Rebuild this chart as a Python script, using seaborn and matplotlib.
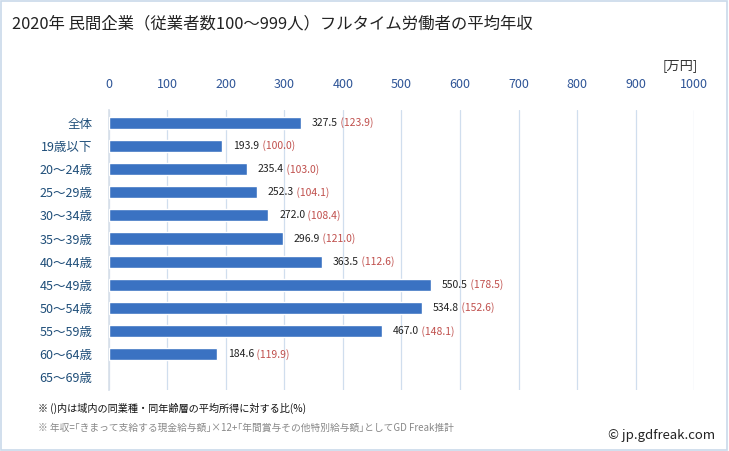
import numpy as np
import pandas as pd
import matplotlib
matplotlib.use("Agg")
import matplotlib.pyplot as plt
import seaborn as sns

# data
categories = ["全体", "19歳以下", "20〜24歳", "25〜29歳", "30〜34歳", "35〜39歳",
              "40〜44歳", "45〜49歳", "50〜54歳", "55〜59歳", "60〜64歳", "65〜69歳"]
income = [327.5, 193.9, 235.4, 252.3, 272.0, 296.9, 363.5, 550.5, 534.8, 467.0, 184.6, np.nan]
ratio = [123.9, 100.0, 103.0, 104.1, 108.4, 121.0, 112.6, 178.5, 152.6, 148.1, 119.9, np.nan]
x_ticks = [0, 100, 200, 300, 400, 500, 600, 700, 800, 900, 1000]

sns.set_theme(style="white")
plt.rcParams["font.family"] = ["Noto Sans CJK JP", "DejaVu Sans"]

df = pd.DataFrame({"cat": categories, "income": income})

fig = plt.figure(figsize=(7.29, 4.51), dpi=100)
ax = fig.add_axes([0.1495, 0.135, 0.8025, 0.621])

sns.barplot(data=df, x="income", y="cat", order=categories, orient="h",
            color="#3a72c2", saturation=1, width=0.52, ax=ax, zorder=3)

ax.set_xlim(0, 1000)
ax.set_ylim(11.55, -0.55)
ax.set_xticks(x_ticks)
ax.xaxis.tick_top()
ax.tick_params(axis="x", length=0, pad=14, labelsize=9, labelcolor="#2f5597")
ax.tick_params(axis="y", length=0, pad=12, labelsize=9, labelcolor="#1f4e79")
ax.set_xlabel("")
ax.set_ylabel("")
ax.grid(axis="x", color="#d0deee", linewidth=0.9, zorder=0)
for s in ["top", "right", "bottom"]:
    ax.spines[s].set_visible(False)
ax.spines["left"].set_color("#d8e0ea")

# value labels: black value then red ratio
for i, (v, r) in enumerate(zip(income, ratio)):
    if np.isnan(v):
        continue
    t = ax.annotate(f"{v:.1f}", xy=(v, i), xytext=(8, 0), textcoords="offset points",
                    va="center", ha="left", fontsize=7.5, color="#222222")
    ax.annotate(f" ({r:.1f})", xy=(1, 0.5), xycoords=t, va="center", ha="left",
                fontsize=7.5, color="#c0504d")

fig.text(12 / 729, 1 - 24 / 451, "2020年 民間企業（従業者数100〜999人）フルタイム労働者の平均年収",
         fontsize=11.8, color="#222222", va="center", ha="left")
fig.text(698 / 729, 1 - 66 / 451, "[万円]", fontsize=9.5, color="#333333", va="center", ha="right")
fig.text(38 / 729, 1 - 408 / 451, "※ ()内は域内の同業種・同年齢層の平均所得に対する比(%)",
         fontsize=7.3, color="#111111", va="center", ha="left")
fig.text(38 / 729, 1 - 428 / 451,
         "※ 年収=｢きまって支給する現金給与額｣×12+｢年間賞与その他特別給与額｣としてGD Freak推計",
         fontsize=7.0, color="#888888", va="center", ha="left")
fig.text(715 / 729, 1 - 436 / 451, "© jp.gdfreak.com", fontsize=9.5, color="#222222",
         va="center", ha="right")

# light frame around the whole picture
fig.patches.append(plt.Rectangle((0.002, 0.003), 0.995, 0.994, transform=fig.transFigure,
                                 fill=False, edgecolor="#c9d9ea", linewidth=1.2))

fig.savefig("out.png", dpi=100)
